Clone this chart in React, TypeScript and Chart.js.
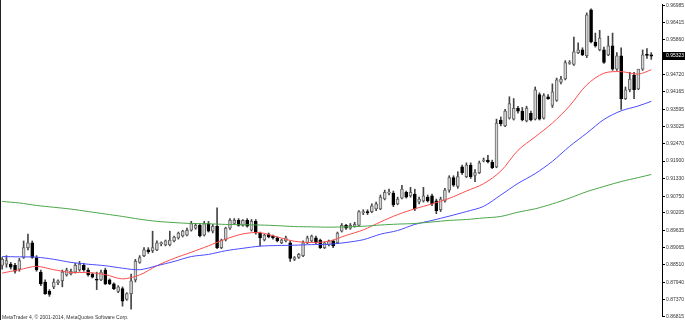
import React, { useEffect, useRef } from 'react';
import { Chart, registerables } from 'chart.js';

Chart.register(...registerables);

const opens = [
  0.8849, 0.8853, 0.8853, 0.8849, 0.8837, 0.8875, 0.8907, 0.8923, 0.8875, 0.8827,
  0.8795, 0.8764, 0.8779, 0.8792, 0.8799, 0.8818, 0.8821, 0.8827, 0.8834, 0.8849,
  0.8834, 0.8821, 0.8802, 0.8802, 0.8834, 0.8802, 0.8789, 0.8764, 0.8773, 0.8738,
  0.8757, 0.8802, 0.8859, 0.8881, 0.8900, 0.8897, 0.8900, 0.8920, 0.8916, 0.8916,
  0.8929, 0.8939, 0.8945, 0.8948, 0.8964, 0.8971, 0.8980, 0.8948, 0.8986, 0.8961,
  0.8977, 0.8907, 0.8932, 0.8971, 0.8986, 0.8996, 0.8980, 0.8996, 0.8964, 0.8993,
  0.8955, 0.8932, 0.8951, 0.8945, 0.8939, 0.8923, 0.8929, 0.8923, 0.8869, 0.8875,
  0.8881, 0.8923, 0.8929, 0.8939, 0.8932, 0.8907, 0.8916, 0.8929, 0.8923, 0.8961,
  0.8980, 0.8971, 0.8977, 0.8980, 0.9021, 0.9025, 0.9025, 0.9034, 0.9034, 0.9066,
  0.9085, 0.9085, 0.9050, 0.9069, 0.9088, 0.9076, 0.9082, 0.9056, 0.9060, 0.9072,
  0.9076, 0.9060, 0.9031, 0.9060, 0.9095, 0.9136, 0.9107, 0.9171, 0.9139, 0.9177,
  0.9143, 0.9152, 0.9190, 0.9193, 0.9187, 0.9171, 0.9324, 0.9305, 0.9330, 0.9327,
  0.9362, 0.9353, 0.9321, 0.9346, 0.9327, 0.9407, 0.9330, 0.9400, 0.9372, 0.9388,
  0.9448, 0.9458, 0.9509, 0.9506, 0.9544, 0.9553, 0.9534, 0.9684, 0.9579, 0.9553,
  0.9553, 0.9537, 0.9566, 0.9490, 0.9534, 0.9394, 0.9423, 0.9471, 0.9426, 0.9490,
  0.9537, 0.9537,
];
const highs = [
  0.8875, 0.8881, 0.8859, 0.8856, 0.8872, 0.8929, 0.8951, 0.8929, 0.8881, 0.8834,
  0.8802, 0.8770, 0.8805, 0.8802, 0.8834, 0.8840, 0.8837, 0.8856, 0.8862, 0.8856,
  0.8840, 0.8824, 0.8827, 0.8834, 0.8840, 0.8805, 0.8792, 0.8783, 0.8779, 0.8760,
  0.8821, 0.8869, 0.8881, 0.8907, 0.8907, 0.8961, 0.8929, 0.8926, 0.8932, 0.8961,
  0.8945, 0.8958, 0.8964, 0.8971, 0.8993, 0.8986, 0.8986, 0.8993, 0.8993, 0.8983,
  0.9037, 0.8935, 0.8974, 0.9002, 0.9002, 0.9002, 0.8999, 0.9002, 0.8999, 0.8999,
  0.8958, 0.8951, 0.8955, 0.8948, 0.8942, 0.8935, 0.8945, 0.8929, 0.8878, 0.8888,
  0.8929, 0.8945, 0.8948, 0.8945, 0.8935, 0.8926, 0.8932, 0.8932, 0.8958, 0.8986,
  0.8983, 0.8986, 0.8990, 0.9028, 0.9031, 0.9031, 0.9050, 0.9056, 0.9079, 0.9095,
  0.9098, 0.9092, 0.9072, 0.9111, 0.9092, 0.9104, 0.9098, 0.9072, 0.9104, 0.9079,
  0.9082, 0.9066, 0.9072, 0.9101, 0.9142, 0.9142, 0.9155, 0.9177, 0.9184, 0.9184,
  0.9162, 0.9190, 0.9200, 0.9209, 0.9193, 0.9327, 0.9334, 0.9359, 0.9400, 0.9394,
  0.9369, 0.9365, 0.9369, 0.9353, 0.9432, 0.9413, 0.9410, 0.9407, 0.9442, 0.9461,
  0.9467, 0.9518, 0.9518, 0.9595, 0.9576, 0.9560, 0.9674, 0.9687, 0.9608, 0.9617,
  0.9562, 0.9598, 0.9608, 0.9544, 0.9560, 0.9432, 0.9480, 0.9480, 0.9480, 0.9553,
  0.9557, 0.9544,
];
const lows = [
  0.8837, 0.8843, 0.8837, 0.8824, 0.8830, 0.8872, 0.8900, 0.8872, 0.8830, 0.8783,
  0.8754, 0.8748, 0.8773, 0.8786, 0.8779, 0.8814, 0.8818, 0.8824, 0.8830, 0.8830,
  0.8814, 0.8808, 0.8770, 0.8799, 0.8786, 0.8786, 0.8770, 0.8760, 0.8716, 0.8735,
  0.8706, 0.8795, 0.8856, 0.8878, 0.8888, 0.8891, 0.8897, 0.8913, 0.8913, 0.8913,
  0.8926, 0.8935, 0.8942, 0.8945, 0.8961, 0.8967, 0.8942, 0.8945, 0.8958, 0.8955,
  0.8904, 0.8904, 0.8929, 0.8967, 0.8983, 0.8977, 0.8977, 0.8974, 0.8961, 0.8951,
  0.8913, 0.8929, 0.8939, 0.8935, 0.8926, 0.8920, 0.8926, 0.8862, 0.8865, 0.8872,
  0.8878, 0.8920, 0.8926, 0.8920, 0.8904, 0.8904, 0.8913, 0.8907, 0.8920, 0.8958,
  0.8967, 0.8967, 0.8974, 0.8977, 0.9015, 0.9015, 0.9021, 0.9028, 0.9031, 0.9063,
  0.9079, 0.9041, 0.9047, 0.9066, 0.9069, 0.9072, 0.9028, 0.9050, 0.9056, 0.9056,
  0.9044, 0.9018, 0.9025, 0.9056, 0.9088, 0.9107, 0.9101, 0.9146, 0.9136, 0.9133,
  0.9123, 0.9149, 0.9187, 0.9184, 0.9165, 0.9168, 0.9305, 0.9302, 0.9327, 0.9324,
  0.9346, 0.9321, 0.9318, 0.9321, 0.9324, 0.9324, 0.9327, 0.9391, 0.9365, 0.9385,
  0.9442, 0.9455, 0.9506, 0.9502, 0.9541, 0.9534, 0.9528, 0.9576, 0.9562, 0.9550,
  0.9509, 0.9534, 0.9486, 0.9486, 0.9359, 0.9391, 0.9416, 0.9394, 0.9423, 0.9486,
  0.9525, 0.9522,
];
const closes = [
  0.8869, 0.8865, 0.8843, 0.8830, 0.8865, 0.8907, 0.8923, 0.8875, 0.8834, 0.8789,
  0.8757, 0.8754, 0.8795, 0.8799, 0.8827, 0.8834, 0.8830, 0.8849, 0.8853, 0.8834,
  0.8818, 0.8811, 0.8801, 0.8827, 0.8789, 0.8789, 0.8773, 0.8779, 0.8732, 0.8757,
  0.8799, 0.8862, 0.8875, 0.8900, 0.8894, 0.8907, 0.8923, 0.8923, 0.8929, 0.8932,
  0.8942, 0.8955, 0.8961, 0.8964, 0.8986, 0.8980, 0.8945, 0.8986, 0.8961, 0.8977,
  0.8907, 0.8932, 0.8971, 0.8996, 0.8996, 0.8980, 0.8996, 0.8977, 0.8993, 0.8955,
  0.8939, 0.8948, 0.8942, 0.8939, 0.8929, 0.8932, 0.8939, 0.8872, 0.8875, 0.8885,
  0.8923, 0.8939, 0.8945, 0.8923, 0.8907, 0.8923, 0.8929, 0.8913, 0.8955, 0.8980,
  0.8971, 0.8980, 0.8983, 0.9025, 0.9025, 0.9021, 0.9044, 0.9050, 0.9072, 0.9088,
  0.9088, 0.9047, 0.9066, 0.9098, 0.9072, 0.9088, 0.9034, 0.9066, 0.9076, 0.9060,
  0.9050, 0.9028, 0.9066, 0.9095, 0.9136, 0.9111, 0.9139, 0.9152, 0.9177, 0.9139,
  0.9152, 0.9184, 0.9193, 0.9187, 0.9168, 0.9314, 0.9311, 0.9353, 0.9378, 0.9362,
  0.9353, 0.9324, 0.9362, 0.9324, 0.9423, 0.9327, 0.9404, 0.9394, 0.9416, 0.9455,
  0.9458, 0.9512, 0.9512, 0.9547, 0.9553, 0.9537, 0.9668, 0.9579, 0.9566, 0.9592,
  0.9512, 0.9566, 0.9490, 0.9534, 0.9394, 0.9423, 0.9458, 0.9423, 0.9490, 0.9537,
  0.9535, 0.95323,
];

const maIndex = [
  0, 4, 8, 12, 16, 20, 24, 28, 32, 36, 40, 44, 48, 52, 56, 60, 64, 68, 72, 76,
  80, 84, 88, 92, 96, 100, 104, 108, 112, 116, 120, 124, 128, 132, 136, 140, 144, 148, 151,
];
const maRed = [
  0.8824, 0.8835, 0.8846, 0.8835, 0.8826, 0.8826, 0.8819, 0.8805, 0.8818, 0.8848,
  0.8872, 0.8892, 0.8913, 0.8935, 0.8952, 0.8956, 0.8942, 0.8928, 0.8924, 0.8928,
  0.8947, 0.8965, 0.8991, 0.9015, 0.9034, 0.9050, 0.9068, 0.9092, 0.9116, 0.9157,
  0.9225, 0.9269, 0.9314, 0.9370, 0.9439, 0.9477, 0.9482, 0.9474, 0.9488,
];
const maBlue = [
  0.8878, 0.8877, 0.8876, 0.8869, 0.8859, 0.8853, 0.8848, 0.8840, 0.8835, 0.8848,
  0.8862, 0.8878, 0.8885, 0.8897, 0.8905, 0.8912, 0.8914, 0.8915, 0.8917, 0.8918,
  0.8924, 0.8933, 0.8951, 0.8963, 0.8983, 0.8996, 0.9010, 0.9025, 0.9042, 0.9079,
  0.9117, 0.9149, 0.9189, 0.9238, 0.9281, 0.9326, 0.9354, 0.9370, 0.9385,
];
const maGreen = [
  0.9058, 0.9053, 0.9045, 0.9039, 0.9033, 0.9025, 0.9017, 0.9009, 0.9000, 0.8993,
  0.8989, 0.8986, 0.8985, 0.8983, 0.8982, 0.8981, 0.8979, 0.8976, 0.8975, 0.8974,
  0.8975, 0.8977, 0.8981, 0.8984, 0.8986, 0.8991, 0.8996, 0.8999, 0.9004, 0.9009,
  0.9023, 0.9034, 0.9050, 0.9069, 0.9090, 0.9107, 0.9123, 0.9136, 0.9146,
];

const priceTicks = [
  0.96985, 0.96415, 0.9586, 0.9472, 0.94165, 0.93595, 0.93025, 0.9247, 0.919,
  0.9133, 0.9075, 0.90205, 0.89635, 0.89065, 0.8851, 0.8794, 0.8737, 0.86815,
];
const lastPriceLabel = '0.95323';
const footerText = 'MetaTrader 4, \u00a9 2001-2014, MetaQuotes Software Corp.';
const yMax = 0.9703;
const yMin = 0.86838;
const slotCount = 154;

const FONT = '"Liberation Sans", Arial, sans-serif';

const overlayPlugin = {
  id: 'mtOverlay',
  afterDraw(chart: any) {
    const ctx = chart.ctx;
    const area = chart.chartArea;
    const ys = chart.scales.y;
    ctx.save();
    ctx.strokeStyle = '#222';
    ctx.lineWidth = 1;
    ctx.beginPath();
    ctx.moveTo(0.5, 0);
    ctx.lineTo(0.5, chart.height);
    ctx.stroke();

    const py = ys.getPixelForValue(closes[closes.length - 1]);
    ctx.fillStyle = '#000';
    ctx.fillRect(area.right + 1, Math.round(py) - 4, chart.width - area.right - 1, 8);
    ctx.fillStyle = '#fff';
    ctx.font = `5px ${FONT}`;
    ctx.textBaseline = 'middle';
    ctx.textAlign = 'left';
    ctx.fillText(lastPriceLabel, area.right + 4, Math.round(py));

    ctx.fillStyle = '#333';
    ctx.textBaseline = 'alphabetic';
    ctx.fillText(footerText, 2, chart.height - 1.5);
    ctx.restore();
  },
};

export default function App() {
  const ref = useRef<HTMLCanvasElement>(null);

  useEffect(() => {
    const idx = opens.map((_, i) => i);
    const bull = idx.map((i) => closes[i] >= opens[i]);
    const chart = new Chart(ref.current as HTMLCanvasElement, {
      type: 'bar',
      data: {
        datasets: [
          {
            type: 'line',
            label: 'MA slow',
            data: maIndex.map((x, k) => ({ x, y: maGreen[k] })),
            borderColor: '#4aa64a',
            borderWidth: 1,
            pointRadius: 0,
            tension: 0.3,
            order: 1,
          },
          {
            type: 'line',
            label: 'MA mid',
            data: maIndex.map((x, k) => ({ x, y: maBlue[k] })),
            borderColor: '#4b4bff',
            borderWidth: 1,
            pointRadius: 0,
            tension: 0.3,
            order: 1,
          },
          {
            type: 'line',
            label: 'MA fast',
            data: maIndex.map((x, k) => ({ x, y: maRed[k] })),
            borderColor: '#ff4c4c',
            borderWidth: 1,
            pointRadius: 0,
            tension: 0.3,
            order: 1,
          },
          {
            type: 'bar',
            label: 'bodies',
            data: idx.map((i) => ({ x: i, y: [opens[i], closes[i]] })),
            backgroundColor: idx.map((i) => (bull[i] ? '#d4d4d4' : '#000000')),
            borderColor: idx.map((i) => (bull[i] ? '#666666' : '#000000')),
            borderWidth: 1,
            borderSkipped: false,
            barThickness: 3,
            minBarLength: 1,
            grouped: false,
            order: 2,
          } as any,
          {
            type: 'bar',
            label: 'wicks',
            data: idx.map((i) => ({ x: i, y: [lows[i], highs[i]] })),
            backgroundColor: '#444444',
            barThickness: 1,
            grouped: false,
            order: 3,
          } as any,
        ],
      },
      options: {
        animation: false,
        responsive: false,
        devicePixelRatio: 1,
        layout: { padding: 0, autoPadding: false },
        plugins: {
          legend: { display: false },
          tooltip: { enabled: false },
          title: { display: false },
        },
        scales: {
          x: {
            type: 'linear',
            min: -0.5,
            max: slotCount - 0.5,
            display: false,
            offset: false,
            grid: { offset: false },
          },
          y: {
            type: 'linear',
            position: 'right',
            min: yMin,
            max: yMax,
            afterBuildTicks: (s: any) => {
              s.ticks = priceTicks.map((v) => ({ value: v }));
            },
            afterFit: (s: any) => {
              s.width = 23;
            },
            ticks: {
              autoSkip: false,
              padding: 1,
              color: '#333',
              font: { family: FONT, size: 5 },
              callback: (v: any) => Number(v).toFixed(5),
            },
            grid: {
              drawOnChartArea: false,
              drawTicks: true,
              tickLength: 3,
              color: '#000',
              lineWidth: 1,
            },
            border: { display: true, color: '#000', width: 1 },
          },
        },
      } as any,
      plugins: [overlayPlugin],
    });
    return () => chart.destroy();
  }, []);

  return (
    <div style={{ position: 'fixed', left: 0, top: 0, width: 685, height: 320, background: '#fff' }}>
      <canvas ref={ref} width={685} height={320} style={{ display: 'block', width: 685, height: 320 }} />
    </div>
  );
}
